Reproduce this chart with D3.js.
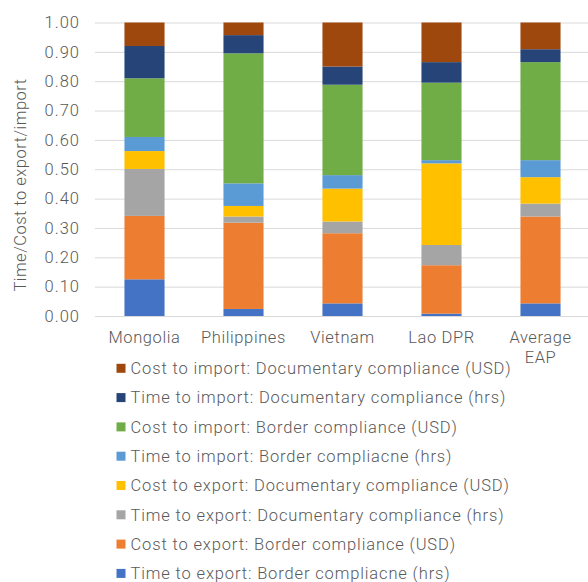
<!DOCTYPE html>
<html>
<head>
<meta charset="utf-8">
<script src="https://cdn.jsdelivr.net/npm/d3@7"></script>
<style>
  html, body { margin: 0; padding: 0; background: #fff; }
  svg text { font-family: Roboto, "Noto Sans", sans-serif; font-weight: 300; fill: #595959; }
</style>
</head>
<body>
<svg id="chart" width="588" height="582"></svg>
<script>
// Economies on the x axis
const categories = ["Mongolia", "Philippines", "Vietnam", "Lao DPR", "Average EAP"];

// Shares of each component, stacked bottom to top
const timeExportBorder   = [0.125, 0.024, 0.043, 0.008, 0.043];
const costExportBorder   = [0.216, 0.294, 0.239, 0.165, 0.296];
const timeExportDoc      = [0.160, 0.021, 0.040, 0.069, 0.044];
const costExportDoc      = [0.061, 0.036, 0.112, 0.278, 0.090];
const timeImportBorder   = [0.048, 0.077, 0.046, 0.011, 0.058];
const costImportBorder   = [0.200, 0.443, 0.308, 0.264, 0.334];
const timeImportDoc      = [0.110, 0.062, 0.062, 0.070, 0.044];
const costImportDoc      = [0.080, 0.043, 0.150, 0.135, 0.091];

const seriesNames = [
  "Time to export: Border compliacne (hrs)",
  "Cost to export: Border compliance (USD)",
  "Time to export: Documentary compliance (hrs)",
  "Cost to export: Documentary compliance (USD)",
  "Time to import: Border compliacne (hrs)",
  "Cost to import: Border compliance (USD)",
  "Time to import: Documentary compliance (hrs)",
  "Cost to import: Documentary compliance (USD)"
];
const seriesValues = [
  timeExportBorder, costExportBorder, timeExportDoc, costExportDoc,
  timeImportBorder, costImportBorder, timeImportDoc, costImportDoc
];
const seriesColors = ["#4472C4", "#ED7D31", "#A5A5A5", "#FFC000",
                      "#5B9BD5", "#70AD47", "#264478", "#9E480E"];

const yTicks = [0, 0.1, 0.2, 0.3, 0.4, 0.5, 0.6, 0.7, 0.8, 0.9, 1.0];

const svg = d3.select("#chart");
const margin = { left: 95, right: -2, top: 22.5, bottom: 266 };
const W = 588, H = 582;

const x = d3.scaleBand()
  .domain(categories)
  .range([margin.left, W - margin.right])
  .paddingInner(0.595)
  .paddingOuter(0.2975);

const y = d3.scaleLinear()
  .domain([0, 1])
  .range([H - margin.bottom, margin.top]);

// Gridlines and y tick labels
const yAxis = d3.axisLeft(y)
  .tickValues(yTicks)
  .tickFormat(d3.format(".2f"))
  .tickSize(-(W - margin.right - margin.left))
  .tickPadding(15);

const gy = svg.append("g")
  .attr("transform", `translate(${margin.left},0)`)
  .call(yAxis);
gy.select(".domain").remove();
gy.selectAll(".tick line").attr("stroke", "#d9d9d9").attr("stroke-width", 1);
gy.selectAll(".tick text")
  .attr("font-family", null)
  .attr("font-size", 16.5)
  .attr("letter-spacing", 1.0)
  .style("fill", "#595959");

// Build stacked rows
const rows = categories.map((c, i) => {
  const r = { cat: c };
  seriesNames.forEach((s, k) => { r[s] = seriesValues[k][i]; });
  return r;
});
const stack = d3.stack().keys(seriesNames)(rows);

svg.append("g").selectAll("g")
  .data(stack)
  .join("g")
  .attr("fill", (d, i) => seriesColors[i])
  .selectAll("rect")
  .data(d => d)
  .join("rect")
  .attr("x", d => x(d.data.cat))
  .attr("width", x.bandwidth())
  .attr("y", d => y(d[1]))
  .attr("height", d => y(d[0]) - y(d[1]));

// Category labels (wrapped onto two lines where needed)
const xLabels = {
  "Mongolia": ["Mongolia"],
  "Philippines": ["Philippines"],
  "Vietnam": ["Vietnam"],
  "Lao DPR": ["Lao DPR"],
  "Average EAP": ["Average", "EAP"]
};
const gx = svg.append("g");
categories.forEach(c => {
  const t = gx.append("text")
    .attr("x", x(c) + x.bandwidth() / 2)
    .attr("y", y(0) + 27)
    .attr("text-anchor", "middle")
    .attr("font-size", 16.5)
    .attr("letter-spacing", 0.6);
  xLabels[c].forEach((line, j) => {
    t.append("tspan")
      .attr("x", x(c) + x.bandwidth() / 2)
      .attr("dy", j === 0 ? 0 : 19.5)
      .text(line);
  });
});

// Y axis title
svg.append("text")
  .attr("transform", `translate(26,185) rotate(-90)`)
  .attr("text-anchor", "middle")
  .attr("font-size", 16.5)
  .attr("letter-spacing", 0.5)
  .text("Time/Cost to export/import");

// Legend, top entry is the top of the stack
const legendOrder = d3.range(seriesNames.length).reverse();
const legend = svg.append("g");
legendOrder.forEach((k, j) => {
  const cy = 368.3 + j * 29.3;
  legend.append("rect")
    .attr("x", 116.5)
    .attr("y", cy - 4.5)
    .attr("width", 9)
    .attr("height", 9)
    .attr("fill", seriesColors[k]);
  legend.append("text")
    .attr("x", 130.5)
    .attr("y", cy)
    .attr("dy", "0.35em")
    .attr("font-size", 16.5)
    .attr("letter-spacing", 0.86)
    .text(seriesNames[k]);
});
</script>
</body>
</html>
